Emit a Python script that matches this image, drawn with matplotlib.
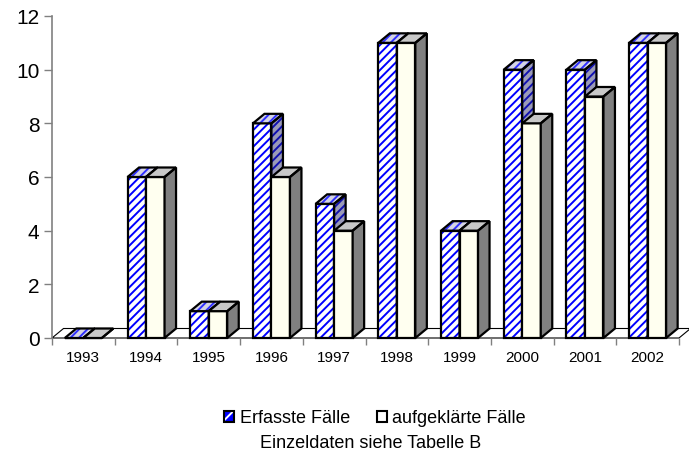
import matplotlib
matplotlib.use("Agg")
import matplotlib.pyplot as plt
from matplotlib.patches import Polygon, Patch
from matplotlib.legend_handler import HandlerTuple
import numpy as np

years = ["1993", "1994", "1995", "1996", "1997", "1998", "1999", "2000", "2001", "2002"]
erfasst = [0, 6, 1, 8, 5, 11, 4, 10, 10, 11]
aufgeklaert = [0, 6, 1, 6, 4, 11, 4, 8, 9, 11]
yticks = [0, 2, 4, 6, 8, 10, 12]

plt.rcParams['font.family'] = ['Liberation Sans', 'DejaVu Sans']
plt.rcParams['hatch.linewidth'] = 1.4

W, H = 689, 456
fig = plt.figure(figsize=(W / 100, H / 100), dpi=100)
ax = fig.add_axes([52 / W, 117 / H, 627 / W, 322 / H])
ax.set_xlim(-0.5, len(years) - 0.5)
ax.set_ylim(0, 12)

# depth offsets in data units (approx 11.5 px right, 9.5 px up)
DX = 11.5 / (627 / len(years))
DY = 9.5 / (322 / 12)
BW = 0.295

BLUE = "#0000ff"
EDGE_LW = 1.6

# floor
floor = Polygon([(-0.5, 0), (len(years) - 0.5, 0), (len(years) - 0.5 + DX, DY), (-0.5 + DX, DY)],
                closed=True, facecolor="white", edgecolor="black", lw=0.8, zorder=1, clip_on=False)
ax.add_patch(floor)

x = np.arange(len(years))
xb = x - BW / 2
xw = x + BW / 2


def faces(ax, xc, h, top_kw, side_kw, z):
    xl, xr = xc - BW / 2, xc + BW / 2
    top = [(xl, h), (xr, h), (xr + DX, h + DY), (xl + DX, h + DY)]
    side = [(xr, 0), (xr + DX, DY), (xr + DX, h + DY), (xr, h)]
    for verts, kw in ((top, top_kw), (side, side_kw)):
        ax.add_patch(Polygon(verts, closed=True, lw=0, zorder=z, clip_on=False, **kw))
        ax.add_patch(Polygon(verts, closed=True, fill=False, edgecolor="black", lw=EDGE_LW,
                             joinstyle="miter", zorder=z + 0.01, clip_on=False))


for i in range(len(years)):
    zb = 2 + i * 0.1
    zw = zb + 0.05
    # blue bar (Erfasste Fälle)
    ax.bar(xb[i], erfasst[i], BW, color="white", edgecolor=BLUE, hatch="////", lw=0, zorder=zb, clip_on=False)
    ax.bar(xb[i], erfasst[i], BW, fill=False, edgecolor="black", lw=EDGE_LW, zorder=zb + 0.01, clip_on=False)
    faces(ax, xb[i], erfasst[i],
          dict(facecolor="#d4d4e4", edgecolor="#3030ff", hatch="////"),
          dict(facecolor="#9a9ab8", edgecolor="#1010b0", hatch="////"), zb + 0.02)
    # white bar (aufgeklärte Fälle)
    ax.bar(xw[i], aufgeklaert[i], BW, color="#fffff0", edgecolor="black", lw=EDGE_LW, zorder=zw, clip_on=False)
    faces(ax, xw[i], aufgeklaert[i],
          dict(facecolor="#c8c8c8"),
          dict(facecolor="#808080"), zw + 0.02)

# axes styling
for s in ("top", "right", "bottom"):
    ax.spines[s].set_visible(False)
ax.spines["left"].set_color("#808080")
ax.spines["left"].set_linewidth(1.2)
ax.set_yticks(yticks)
ax.set_yticklabels([str(v) for v in yticks], fontsize=15)
ax.tick_params(axis="y", length=6, width=1.0, color="#808080", pad=3)

ax.set_xticks(np.arange(len(years) + 1) - 0.5)
ax.set_xticklabels([])
ax.set_xticks(x, minor=True)
ax.set_xticklabels(years, minor=True, fontsize=11)
ax.tick_params(axis="x", which="major", length=5, width=1.0, color="#808080", direction="out")
ax.tick_params(axis="x", which="minor", length=0, pad=9)

# legend
p_hatch = Patch(facecolor=BLUE, edgecolor="white", hatch="///", lw=0)
p_out = Patch(facecolor="none", edgecolor="black", lw=1.5)
p_white = Patch(facecolor="white", edgecolor="black", lw=1.5)
fig.legend(handles=[(p_hatch, p_out), p_white], labels=["Erfasste Fälle", "aufgeklärte Fälle"],
           handler_map={tuple: HandlerTuple(ndivide=1, pad=0)},
           loc="center", bbox_to_anchor=(375 / W, 1 - 419 / H), ncol=2, frameon=False,
           fontsize=13, handlelength=0.55, handleheight=0.55, handletextpad=0.3, columnspacing=1.5,
           borderpad=0, borderaxespad=0)
fig.text(371 / W, 1 - 444 / H, "Einzeldaten siehe Tabelle B", ha="center", va="center", fontsize=13)

fig.savefig("out.png", dpi=100)
